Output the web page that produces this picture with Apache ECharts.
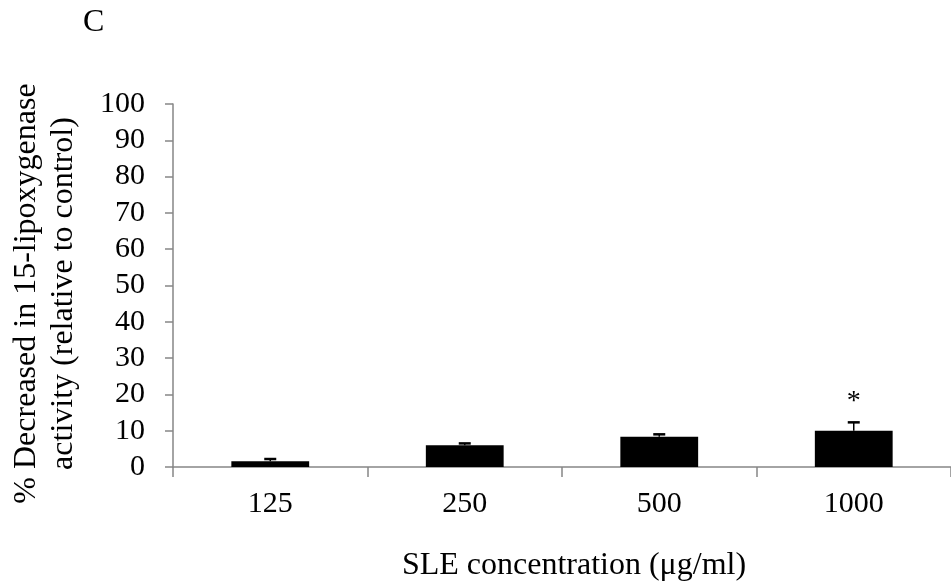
<!DOCTYPE html>
<html>
<head>
<meta charset="utf-8">
<script src="https://cdn.jsdelivr.net/npm/echarts@6/dist/echarts.min.js"></script>
<style>
  html, body { margin: 0; padding: 0; background: #fff; }
  #chart { width: 951px; height: 587px; }
</style>
</head>
<body>
<div id="chart"></div>
<script>
var concentrations = ['125', '250', '500', '1000'];
var decrease = [1.6, 6.0, 8.3, 10.0];
var errorUp = [0.6, 0.5, 0.7, 2.3];
var signif = ['', '', '', '*'];

var FONT = 'Liberation Serif';

var errData = [];
for (var i = 0; i < concentrations.length; i++) {
    errData.push([i, decrease[i], decrease[i] + errorUp[i], signif[i]]);
}

function renderError(params, api) {
    var base = api.coord([api.value(0), api.value(1)]);
    var top = api.coord([api.value(0), api.value(2)]);
    var capHalf = 6;
    var children = [
        {
            type: 'line',
            shape: { x1: base[0], y1: base[1], x2: top[0], y2: top[1] },
            style: { stroke: '#000', lineWidth: 1.5 }
        },
        {
            type: 'line',
            shape: { x1: top[0] - capHalf, y1: top[1], x2: top[0] + capHalf, y2: top[1] },
            style: { stroke: '#000', lineWidth: 2.5 }
        }
    ];
    var mark = errData[params.dataIndex][3];
    if (mark) {
        children.push({
            type: 'text',
            x: top[0],
            y: top[1] - 21,
            style: {
                text: mark,
                fill: '#000',
                font: '28px "' + FONT + '"',
                align: 'center',
                verticalAlign: 'middle'
            }
        });
    }
    return { type: 'group', children: children };
}

var chart = echarts.init(document.getElementById('chart'));
chart.setOption({
    animation: false,
    textStyle: { fontFamily: FONT },
    title: {
        text: 'C',
        left: 78,
        top: 2,
        textStyle: { fontFamily: FONT, fontSize: 32, fontWeight: 'normal', color: '#000' }
    },
    grid: { left: 170, top: 104, width: 788, bottom: 119 },
    xAxis: {
        type: 'category',
        data: concentrations,
        name: 'SLE concentration (μg/ml)',
        nameLocation: 'middle',
        nameGap: 83,
        nameTextStyle: { fontFamily: FONT, fontSize: 32, color: '#000', padding: [0, 0, 0, 24] },
        axisLine: { lineStyle: { color: '#868686', width: 1.5 } },
        axisTick: { show: true, length: 10, alignWithLabel: false, lineStyle: { color: '#868686', width: 1.5 } },
        axisLabel: { fontFamily: FONT, fontSize: 30, color: '#000', margin: 22 },
        splitLine: { show: false }
    },
    yAxis: {
        type: 'value',
        min: 0,
        max: 100,
        interval: 10,
        name: '% Decreased in 15-lipoxygenase\nactivity (relative to control)',
        nameLocation: 'middle',
        nameRotate: 90,
        nameGap: 91,
        nameTextStyle: { fontFamily: FONT, fontSize: 32, color: '#000', lineHeight: 37, padding: [0, 16, 0, 0] },
        axisLine: { show: true, lineStyle: { color: '#868686', width: 1.5 } },
        axisTick: { show: true, length: 8, lineStyle: { color: '#868686', width: 1.5 } },
        axisLabel: { fontFamily: FONT, fontSize: 30, color: '#000', margin: 28 },
        splitLine: { show: false }
    },
    series: [
        {
            type: 'bar',
            data: decrease,
            barWidth: '40%',
            itemStyle: { color: '#000' }
        },
        {
            type: 'custom',
            data: errData,
            renderItem: renderError,
            encode: { x: 0, y: [1, 2] },
            z: 3
        }
    ]
});
</script>
</body>
</html>
